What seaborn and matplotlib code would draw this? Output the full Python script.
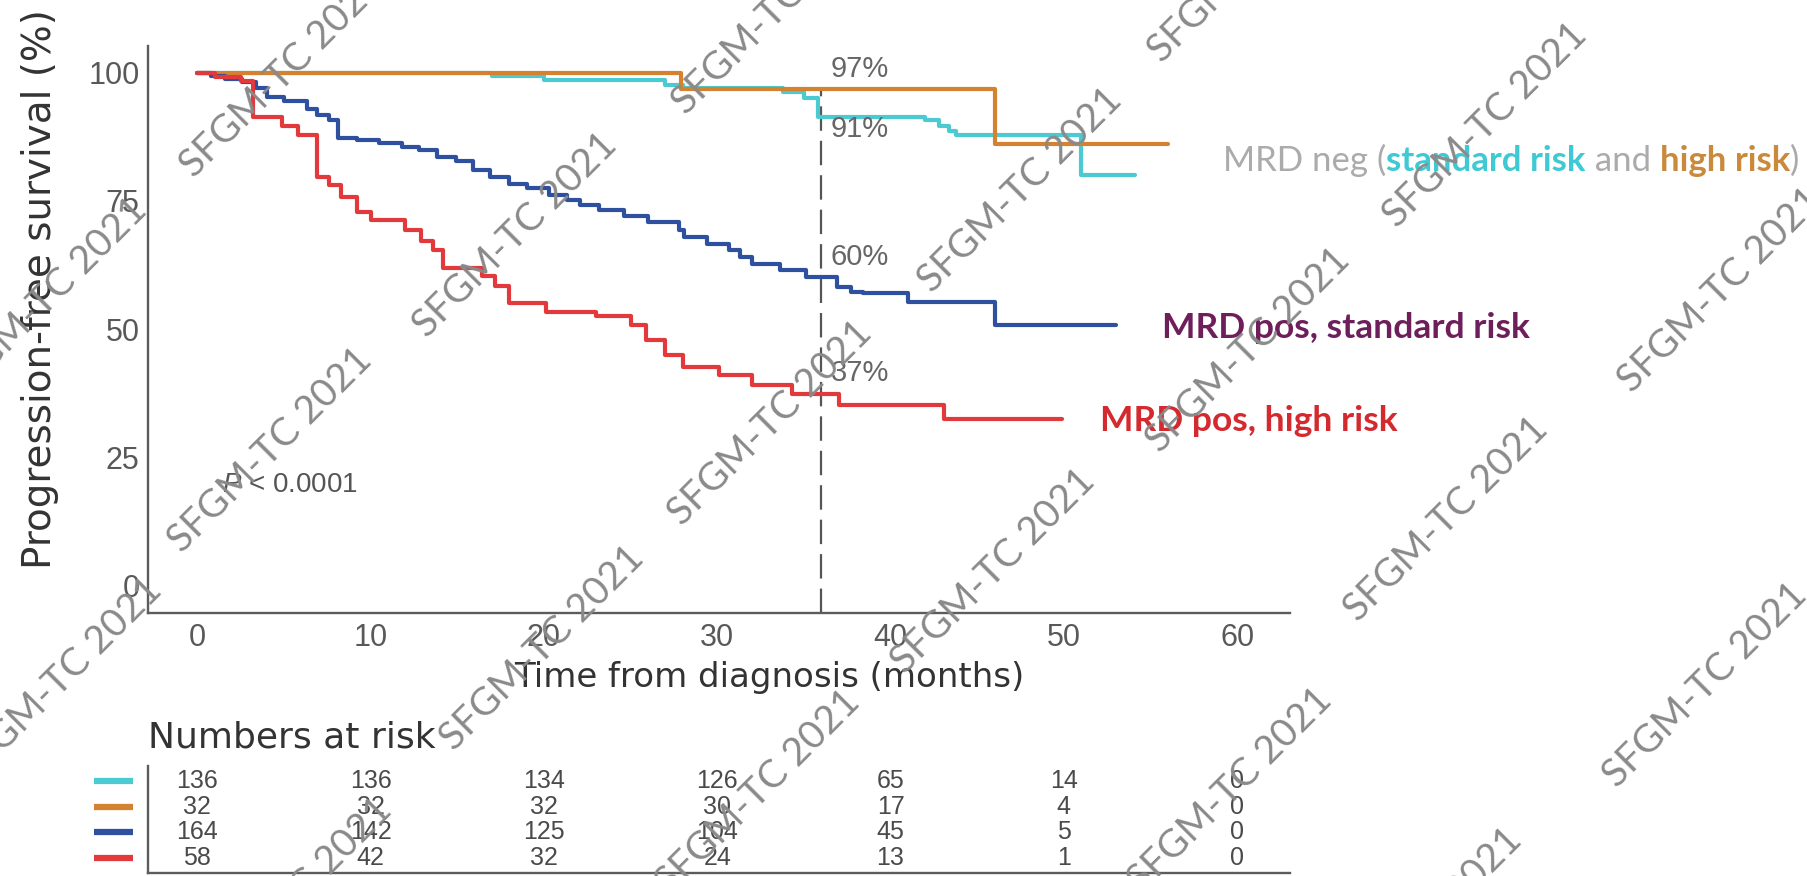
import matplotlib
matplotlib.use("Agg")
import matplotlib.pyplot as plt
import numpy as np
import pandas as pd
import seaborn as sns
from matplotlib.transforms import blended_transform_factory

# ---------------------------------------------------------------------------
# Kaplan-Meier curves: step times (months) and survival (%) after each step
# ---------------------------------------------------------------------------
neg_std_time = [0, 17.0, 20.0, 27.0, 28.0, 33.8, 35.0, 35.8, 42.0, 42.8, 43.4, 43.8, 51.0, 54.1]
neg_std_surv = [100, 99.3, 98.5, 97.6, 97.0, 96.3, 95.0, 91.4, 90.7, 89.6, 88.6, 87.8, 80.0, 80.0]

neg_high_time = [0, 27.9, 46.05, 56.0]
neg_high_surv = [100, 96.9, 86.1, 86.1]

pos_std_time = [0, 0.8, 1.6, 2.6, 3.4, 4.0, 5.0, 6.3, 6.9, 7.6, 8.1, 9.2, 10.5, 11.8,
                12.8, 13.8, 14.9, 15.9, 16.9, 18.0, 19.0, 20.3, 21.3, 22.1, 23.2, 24.6,
                26.0, 27.8, 28.1, 29.4, 30.7, 31.3, 32.0, 33.6, 35.1, 36.9, 37.7, 38.4,
                41.0, 46.0, 53.0]
pos_std_surv = [100, 99.4, 98.8, 98.2, 97.0, 95.3, 94.4, 93.0, 91.8, 90.8, 87.2, 86.9, 86.2, 85.6,
                84.9, 83.6, 82.7, 81.0, 79.7, 78.4, 77.5, 76.2, 75.2, 74.2, 73.2, 72.1,
                70.9, 69.3, 68.0, 66.7, 65.4, 64.1, 62.8, 61.5, 60.2, 58.3, 57.3, 57.0,
                55.4, 50.8, 50.8]

pos_high_time = [0, 1.0, 2.5, 3.2, 4.9, 5.8, 6.9, 7.6, 8.3, 9.2, 10.0, 12.0, 12.9, 13.6,
                 14.2, 16.4, 17.2, 18.0, 20.1, 23.0, 25.0, 25.9, 27.0, 28.0, 30.1, 32.0,
                 34.3, 37.0, 43.1, 49.9]
pos_high_surv = [100, 99.1, 98.3, 91.4, 89.6, 87.9, 79.7, 78.1, 75.8, 72.9, 71.3, 69.4, 67.1, 65.5,
                 61.9, 60.3, 58.5, 55.1, 53.4, 52.6, 50.8, 48.0, 45.0, 42.6, 41.0, 39.2,
                 37.4, 35.2, 32.6, 32.6]

groups = ["MRD neg, standard risk", "MRD neg, high risk",
          "MRD pos, standard risk", "MRD pos, high risk"]
line_colors = ["#4BCBD1", "#D4822F", "#2F4F9F", "#E2393C"]

# Numbers at risk
risk_times = [0, 10, 20, 30, 40, 50, 60]
risk_neg_std = [136, 136, 134, 126, 65, 14, 0]
risk_neg_high = [32, 32, 32, 30, 17, 4, 0]
risk_pos_std = [164, 142, 125, 104, 45, 5, 0]
risk_pos_high = [58, 42, 32, 24, 13, 1, 0]

landmark_month = 36
x_ticks = [0, 10, 20, 30, 40, 50, 60]
y_ticks = [0, 25, 50, 75, 100]
watermark_text = "SFGM-TC 2021"

# ---------------------------------------------------------------------------
sns.set_theme(style="white")
plt.rcParams["font.family"] = ["Liberation Sans", "DejaVu Sans"]
plt.rcParams["mathtext.fontset"] = "custom"
plt.rcParams["mathtext.it"] = "Liberation Sans:italic"
plt.rcParams["mathtext.rm"] = "Liberation Sans"

W, H = 1807, 876
fig = plt.figure(figsize=(W / 100, H / 100), dpi=100)
fig.patch.set_facecolor("white")


def px_box(left, top, right, bottom):
    return [left / W, 1 - bottom / H, (right - left) / W, (bottom - top) / H]


def fx(px):
    return px / W


def fy(py):
    return 1 - py / H


curves = [(neg_std_time, neg_std_surv), (neg_high_time, neg_high_surv),
          (pos_std_time, pos_std_surv), (pos_high_time, pos_high_surv)]
frames = []
for name, (t, s) in zip(groups, curves):
    frames.append(pd.DataFrame({"time": t, "surv": s, "group": name}))
km = pd.concat(frames, ignore_index=True)

ax = fig.add_axes(px_box(148, 46, 1290, 613))
sns.lineplot(data=km, x="time", y="surv", hue="group", hue_order=groups,
             palette=line_colors, estimator=None, drawstyle="steps-post",
             linewidth=3.0, legend=False, ax=ax)

XLIM = (-2.85, 63.05)
YLIM = (-5.3, 105.2)
ax.set_xlim(*XLIM)
ax.set_ylim(*YLIM)
ax.set_xticks(x_ticks)
ax.set_yticks(y_ticks)
ax.set_xlabel("")
ax.set_ylabel("")
for side in ("top", "right"):
    ax.spines[side].set_visible(False)
for side in ("left", "bottom"):
    ax.spines[side].set_color("#5c5c5c")
    ax.spines[side].set_linewidth(1.7)
ax.tick_params(axis="both", length=3, width=1.6, color="#222222",
               labelsize=22, labelcolor="#595959", pad=4)
ax.tick_params(axis="y", pad=3)


def surv_at(times, survs, t):
    idx = np.searchsorted(times, t, side="right") - 1
    return survs[idx]


# landmark line
top_val = surv_at(neg_high_time, neg_high_surv, landmark_month)
ax.vlines(landmark_month, YLIM[0], top_val, colors="#555555",
          linestyles=(0, (11, 4.5)), linewidth=1.6, zorder=1)

# landmark percentages
pct_offsets = [-9, 14, 14, 15]   # points above (+) / below (-) the curve
for (t, s), off in zip(curves, pct_offsets):
    v = surv_at(t, s, landmark_month)
    ax.annotate(f"{round(v)}%", xy=(landmark_month + 0.55, v), xytext=(0, off),
                textcoords="offset points", ha="left", va="center",
                fontsize=21, color="#666666")

ax.text(1.4, 19.6, r"$\mathit{P}$ < 0.0001", fontsize=20, color="#555555",
        ha="left", va="center")

# axis titles
fig.text(fx(769), fy(677), "Time from diagnosis (months)", ha="center", va="center",
         fontsize=24.5, color="#333333", family=["DejaVu Sans"])
fig.text(fx(40), fy(289), "Progression-free survival (%)", ha="center", va="center",
         rotation=90, fontsize=28, color="#333333", family=["DejaVu Sans"])

# ---------------------------------------------------------------------------
# numbers-at-risk table
# ---------------------------------------------------------------------------
axt = fig.add_axes(px_box(148, 766, 1290, 873))
axt.set_xlim(*XLIM)
axt.set_ylim(0.4, 4.6)
axt.set_xticks([])
axt.set_yticks([])
for side in ("top", "right"):
    axt.spines[side].set_visible(False)
for side in ("left", "bottom"):
    axt.spines[side].set_color("#5c5c5c")
    axt.spines[side].set_linewidth(1.7)
axt.patch.set_alpha(0)

risk_rows = [risk_neg_std, risk_neg_high, risk_pos_std, risk_pos_high]
blend = blended_transform_factory(axt.transAxes, axt.transData)
for i, (row, col) in enumerate(zip(risk_rows, line_colors)):
    yrow = 4 - i
    for t, n in zip(risk_times, row):
        axt.text(t, yrow, str(n), ha="center", va="center", fontsize=18, color="#4a4a4a")
    axt.plot([-0.047, -0.013], [yrow, yrow], transform=blend, clip_on=False,
             color=col, linewidth=4.5, solid_capstyle="butt")

fig.text(fx(148), fy(737), "Numbers at risk", ha="left", va="center", fontsize=26,
         color="#333333", family=["DejaVu Sans"])

# ---------------------------------------------------------------------------
# group labels on the right
# ---------------------------------------------------------------------------
fig.canvas.draw()
renderer = fig.canvas.get_renderer()


def chained(x_px, y_px, pieces, size):
    x = x_px
    for txt, col, weight in pieces:
        t = fig.text(fx(x), fy(y_px), txt, ha="left", va="baseline", fontsize=size,
                     color=col, fontweight=weight, family=["Lato", "DejaVu Sans"])
        x += t.get_window_extent(renderer).width


chained(1223, 171, [("MRD neg (", "#ABABAB", "normal"),
                    ("standard risk", "#3EC9D4", "bold"),
                    (" and ", "#ABABAB", "normal"),
                    ("high risk", "#C98A3B", "bold"),
                    (")", "#ABABAB", "normal")], 25)
chained(1162, 338, [("MRD pos, standard risk", "#6E1E5A", "bold")], 25.5)
chained(1100, 431, [("MRD pos, high risk", "#D42A2F", "bold")], 25.5)

# ---------------------------------------------------------------------------
# watermark
# ---------------------------------------------------------------------------
wm_centers = [(282, 75), (45, 300), (774, 12), (1250, -40), (515, 235), (270, 450),
              (60, 680), (542, 648), (770, 423), (1020, 190), (993, 571), (1485, 125),
              (1248, 350), (1720, 290), (1446, 519), (1705, 685), (758, 792),
              (290, 900), (1230, 790), (1420, 930)]
for cx, cy in wm_centers:
    fig.text(fx(cx), fy(cy), watermark_text, rotation=45, rotation_mode="anchor",
             ha="center", va="center", fontsize=28, color="#8a8a8a",
             family=["Lato", "DejaVu Sans"], fontweight="normal", zorder=20)

fig.savefig("out.png", dpi=100, facecolor="white")
